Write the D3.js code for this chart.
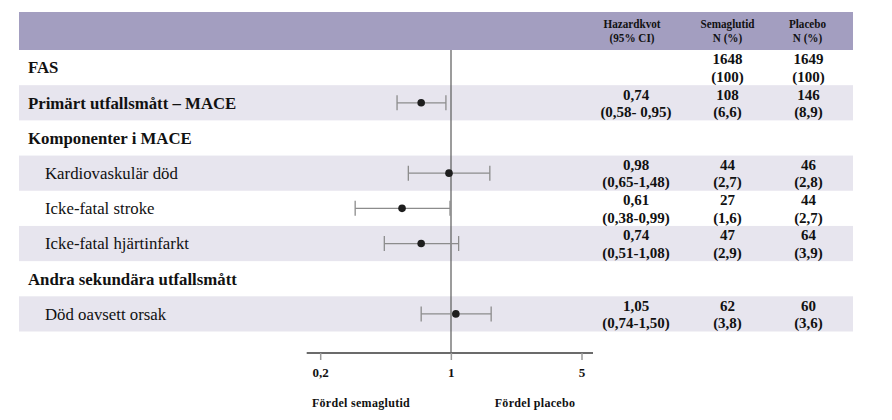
<!DOCTYPE html>
<html>
<head>
<meta charset="utf-8">
<script src="https://cdn.jsdelivr.net/npm/d3@7"></script>
<style>
  body { margin: 0; background: #fff; }
</style>
</head>
<body>
<div id="forest"></div>
<script>
/**
 * Data.
 */
const rowLabels = ["FAS", "Primärt utfallsmått – MACE", "Komponenter i MACE",
    "Kardiovaskulär död", "Icke-fatal stroke", "Icke-fatal hjärtinfarkt",
    "Andra sekundära utfallsmått", "Död oavsett orsak"];
const rowLevel = [0, 0, 0, 1, 1, 1, 0, 1];
const hazard = [null, 0.74, null, 0.98, 0.61, 0.74, null, 1.05];
const ciLow = [null, 0.58, null, 0.65, 0.38, 0.51, null, 0.74];
const ciHigh = [null, 0.95, null, 1.48, 0.99, 1.08, null, 1.50];
const ciLabels = ["", "(0,58- 0,95)", "", "(0,65-1,48)", "(0,38-0,99)", "(0,51-1,08)", "", "(0,74-1,50)"];
const semaN = [1648, 108, null, 44, 27, 47, null, 62];
const semaPct = [100, 6.6, null, 2.7, 1.6, 2.9, null, 3.8];
const placeboN = [1649, 146, null, 46, 44, 64, null, 60];
const placeboPct = [100, 8.9, null, 2.8, 2.7, 3.9, null, 3.6];
const axisTicks = [0.2, 1, 5];
const headers = [["Hazardkvot", "(95% CI)"], ["Semaglutid", "N  (%)"], ["Placebo", "N  (%)"]];
const footLabels = ["Fördel semaglutid", "Fördel placebo"];

/**
 * Dimensions.
 */
const Width = 892, Height = 420;
const Left = 19, Right = 853;
const HeadTop = 12, HeadBottom = 50;
const RowsBottom = 331.5;
const AxisY = 353;
const colX = [636, 727.5, 808.5];
const headX = [632, 727.5, 807.5];
const Font = "'Liberation Serif', 'Times New Roman', serif";

const comma = v => String(v).replace(".", ",");
const fmtHr = v => d3.format(".2f")(v).replace(".", ",");

const svg = d3.select("#forest")
    .append("svg")
        .attr("width", Width)
        .attr("height", Height)
        .attr("font-family", Font)
        .attr("fill", "#111");

const y = d3.scaleBand()
    .domain(d3.range(rowLabels.length))
    .range([HeadBottom, RowsBottom]);

// marker scale and printed axis do not share the same spacing in the original
const x = d3.scaleLog().domain([0.2, 5]).range([291.6, 610.4]);
const xAxis = d3.scaleLog().domain([0.2, 5]).range([320.7, 582]);

// header band
svg.append("rect")
    .attr("x", Left).attr("y", HeadTop)
    .attr("width", Right - Left).attr("height", HeadBottom - HeadTop)
    .attr("fill", "#a39ec0");

// header text is a narrow face in the original, squeeze it
headers.forEach((h, i) => {
    h.forEach((line, j) => {
        svg.append("text")
            .attr("transform", `translate(${headX[i]},${27.5 + j * 14}) scale(0.86,1)`)
            .attr("text-anchor", "middle")
            .attr("font-size", 13)
            .attr("font-weight", "bold")
            .text(line);
    });
});

// shaded rows
svg.append("g")
    .selectAll("rect")
    .data(d3.range(rowLabels.length).filter(i => i % 2 == 1))
    .join("rect")
        .attr("x", Left)
        .attr("y", i => y(i))
        .attr("width", Right - Left)
        .attr("height", y.bandwidth())
        .attr("fill", "#e7e5ee");

// row labels
svg.append("g")
    .selectAll("text")
    .data(d3.range(rowLabels.length))
    .join("text")
        .attr("x", i => rowLevel[i] == 0 ? 28 : 45)
        .attr("y", i => y(i) + y.bandwidth() / 2)
        .attr("dy", "0.35em")
        .attr("font-size", 16.8)
        .attr("font-weight", i => rowLevel[i] == 0 ? "bold" : "normal")
        .text(i => rowLabels[i]);

// reference line at 1
svg.append("line")
    .attr("x1", x(1)).attr("x2", x(1))
    .attr("y1", HeadBottom).attr("y2", AxisY)
    .attr("stroke", "#5a5a5a")
    .attr("stroke-width", 1.2);

// confidence intervals
const est = d3.range(rowLabels.length).filter(i => hazard[i] != null);
const cy = i => y(i) + y.bandwidth() / 2;
const ci = svg.append("g").attr("stroke", "#8c8c8c").attr("stroke-width", 1.3);
ci.selectAll(".ci")
    .data(est)
    .join("line")
        .attr("x1", i => x(ciLow[i])).attr("x2", i => x(ciHigh[i]))
        .attr("y1", cy).attr("y2", cy);
[ciLow, ciHigh].forEach(arr => {
    ci.selectAll(null)
        .data(est)
        .join("line")
            .attr("x1", i => x(arr[i])).attr("x2", i => x(arr[i]))
            .attr("y1", i => cy(i) - 7.5).attr("y2", i => cy(i) + 7.5);
});
svg.append("g")
    .selectAll("circle")
    .data(est)
    .join("circle")
        .attr("cx", i => x(hazard[i]))
        .attr("cy", cy)
        .attr("r", 3.8)
        .attr("fill", "#1e1e1e");

// value columns
const cols = [
    [i => hazard[i] == null ? "" : fmtHr(hazard[i]), i => ciLabels[i]],
    [i => semaN[i] == null ? "" : semaN[i], i => semaPct[i] == null ? "" : `(${comma(semaPct[i])})`],
    [i => placeboN[i] == null ? "" : placeboN[i], i => placeboPct[i] == null ? "" : `(${comma(placeboPct[i])})`]
];
cols.forEach((c, k) => {
    c.forEach((fn, j) => {
        svg.append("g")
            .selectAll("text")
            .data(d3.range(rowLabels.length))
            .join("text")
                .attr("x", colX[k])
                .attr("y", i => cy(i) + (j == 0 ? -8.5 : 9))
                .attr("dy", "0.35em")
                .attr("text-anchor", "middle")
                .attr("font-size", 15)
                .attr("font-weight", "bold")
                .text(fn);
    });
});

// axis
const axisG = svg.append("g")
    .attr("transform", `translate(0,${AxisY})`);
axisG.append("line")
    .attr("x1", 306.7).attr("x2", 593)
    .attr("stroke", "#6b6b6b")
    .attr("stroke-width", 2);
axisG.selectAll(".tick")
    .data(axisTicks)
    .join("line")
        .attr("x1", d => xAxis(d)).attr("x2", d => xAxis(d))
        .attr("y1", 0).attr("y2", 7)
        .attr("stroke", "#9a9a9a")
        .attr("stroke-width", 1.5);
axisG.selectAll("text")
    .data(axisTicks)
    .join("text")
        .attr("x", d => xAxis(d))
        .attr("y", 19)
        .attr("dy", "0.35em")
        .attr("text-anchor", "middle")
        .attr("font-size", 13)
        .attr("font-weight", "bold")
        .text(d => comma(d));

// favour labels
svg.selectAll(".foot")
    .data(footLabels)
    .join("text")
        .attr("x", (d, i) => i == 0 ? 361 : 535)
        .attr("y", 403)
        .attr("dy", "0.35em")
        .attr("text-anchor", "middle")
        .attr("font-size", 12)
        .attr("font-weight", "bold")
        .attr("letter-spacing", "0.3px")
        .text(d => d);
</script>
</body>
</html>
